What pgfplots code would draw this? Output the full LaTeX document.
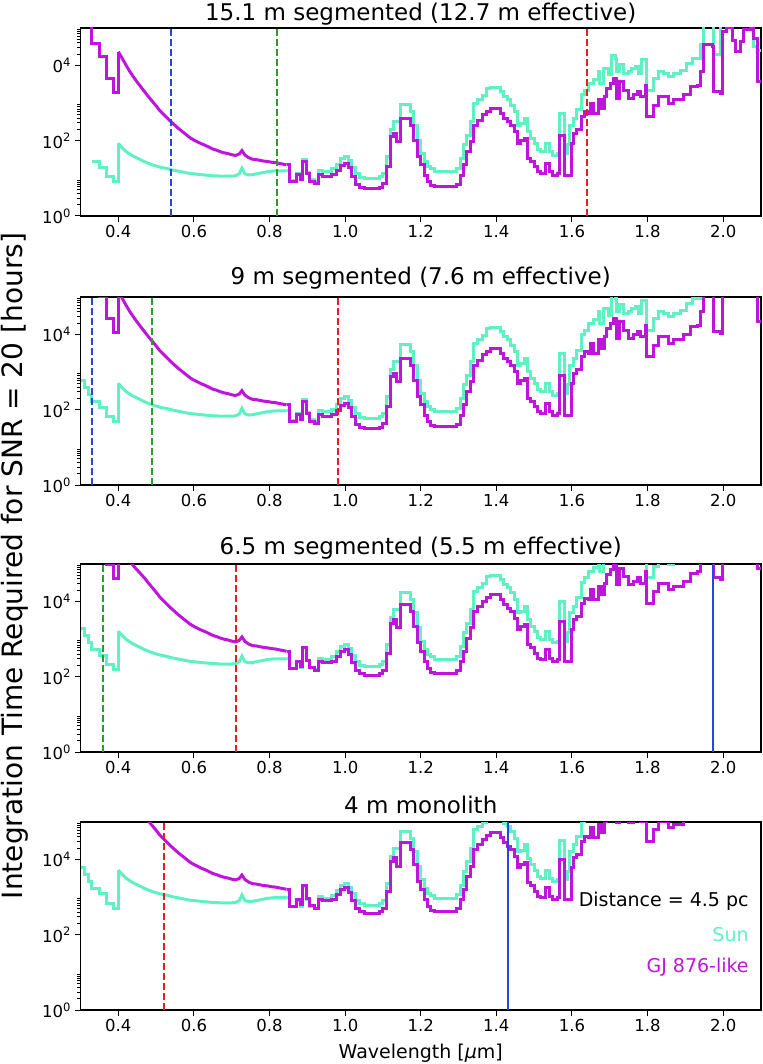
\documentclass[border=0pt]{standalone}
\usepackage{fontspec}
\setmainfont{DejaVu Sans}
\usepackage{pgfplots}
\pgfplotsset{compat=1.18}
\usepackage{pgfplotstable}
\definecolor{sun}{RGB}{95,240,195}
\definecolor{gj}{RGB}{190,20,220}
\definecolor{vblue}{RGB}{40,70,220}
\definecolor{vgreen}{RGB}{40,160,40}
\definecolor{vred}{RGB}{230,30,30}

% log10 of integration time [hours]; columns per panel (1: 15.1 m, 2: 9 m, 3: 6.5 m, 4: 4 m)
\pgfplotstableread{
x s1 g1 s2 g2 s3 g3 s4 g4
0.300 nan nan 2.77 6 3.28 6 3.79 6
0.310 nan nan 2.59 6 3.10 6 3.61 6
0.320 nan 6 2.41 6 2.92 6 3.43 6
0.330 1.44 4.60 2.21 5.37 2.72 6 3.23 6
0.350 1.30 4.25 2.07 5.02 2.58 6 3.09 6
0.368 1.05 3.67 1.82 4.44 2.33 4.99 2.84 6
0.387 0.91 3.29 1.68 4.06 2.19 4.61 2.70 5.14
0.400 1.93 4.37 2.70 5.14 3.21 6 3.72 6
0.410 1.82 4.20 2.59 4.97 3.10 5.52 3.61 6
0.420 1.72 4.02 2.49 4.79 3.00 5.34 3.51 5.87
0.430 1.65 3.85 2.42 4.62 2.93 5.10 3.44 5.70
0.440 1.59 3.70 2.36 4.47 2.87 4.95 3.38 5.55
0.450 1.54 3.56 2.31 4.33 2.82 4.84 3.33 5.41
0.460 1.49 3.43 2.26 4.20 2.77 4.73 3.28 5.28
0.470 1.44 3.30 2.21 4.07 2.72 4.62 3.23 5.15
0.480 1.40 3.17 2.17 3.94 2.68 4.49 3.19 5.02
0.490 1.36 3.05 2.13 3.82 2.64 4.37 3.15 4.90
0.500 1.33 2.93 2.10 3.70 2.61 4.25 3.12 4.78
0.510 1.30 2.80 2.07 3.57 2.58 4.12 3.09 4.65
0.520 1.28 2.70 2.05 3.47 2.56 4.02 3.07 4.55
0.530 1.26 2.60 2.03 3.37 2.54 3.92 3.05 4.45
0.540 1.23 2.50 2.00 3.27 2.51 3.82 3.02 4.35
0.550 1.21 2.41 1.98 3.18 2.49 3.73 3.00 4.26
0.560 1.19 2.32 1.96 3.09 2.47 3.64 2.98 4.17
0.570 1.17 2.24 1.94 3.01 2.45 3.56 2.96 4.09
0.580 1.15 2.16 1.92 2.93 2.43 3.48 2.94 4.01
0.590 1.13 2.08 1.90 2.85 2.41 3.40 2.92 3.93
0.600 1.12 2.02 1.89 2.79 2.40 3.34 2.91 3.87
0.610 1.11 1.97 1.88 2.74 2.39 3.29 2.90 3.82
0.620 1.10 1.92 1.87 2.69 2.38 3.24 2.89 3.77
0.630 1.09 1.88 1.86 2.65 2.37 3.20 2.88 3.73
0.640 1.08 1.83 1.85 2.60 2.36 3.15 2.87 3.68
0.650 1.07 1.78 1.84 2.55 2.35 3.10 2.86 3.63
0.660 1.07 1.75 1.84 2.52 2.35 3.07 2.86 3.60
0.670 1.06 1.71 1.83 2.48 2.34 3.03 2.85 3.56
0.680 1.06 1.68 1.83 2.45 2.34 3.00 2.85 3.53
0.690 1.06 1.66 1.83 2.43 2.34 2.98 2.85 3.51
0.700 1.06 1.63 1.83 2.40 2.34 2.95 2.85 3.48
0.710 1.07 1.61 1.84 2.38 2.35 2.93 2.86 3.46
0.720 1.12 1.65 1.89 2.42 2.40 2.97 2.91 3.50
0.727 1.27 1.74 2.04 2.51 2.55 3.06 3.06 3.59
0.735 1.12 1.62 1.89 2.39 2.40 2.94 2.91 3.47
0.745 1.09 1.55 1.86 2.32 2.37 2.87 2.88 3.40
0.755 1.10 1.51 1.87 2.28 2.38 2.83 2.89 3.36
0.765 1.12 1.50 1.89 2.27 2.40 2.82 2.91 3.35
0.775 1.14 1.48 1.91 2.25 2.42 2.80 2.93 3.33
0.785 1.16 1.46 1.93 2.23 2.44 2.78 2.95 3.31
0.795 1.18 1.45 1.95 2.22 2.46 2.77 2.97 3.30
0.805 1.19 1.43 1.96 2.20 2.47 2.75 2.98 3.28
0.815 1.20 1.42 1.97 2.19 2.48 2.74 2.99 3.27
0.825 1.20 1.40 1.97 2.17 2.48 2.72 2.99 3.25
0.835 1.20 1.38 1.97 2.15 2.48 2.70 2.99 3.23
0.845 1.20 1.36 1.97 2.13 2.48 2.68 2.99 3.21
0.853 0.95 0.91 1.72 1.68 2.23 2.23 2.74 2.76
0.871 1.12 1.10 1.89 1.87 2.40 2.42 2.91 2.95
0.882 0.97 0.96 1.74 1.73 2.25 2.28 2.76 2.81
0.888 1.50 1.45 2.27 2.22 2.78 2.77 3.29 3.30
0.899 1.15 1.12 1.92 1.89 2.43 2.44 2.94 2.97
0.906 0.97 0.92 1.74 1.69 2.25 2.24 2.76 2.77
0.919 0.92 0.86 1.69 1.63 2.20 2.18 2.71 2.71
0.930 1.22 1.10 1.99 1.87 2.50 2.42 3.01 2.95
0.940 1.18 1.05 1.95 1.82 2.46 2.37 2.97 2.90
0.965 1.25 1.10 2.02 1.87 2.53 2.42 3.04 2.95
0.977 1.38 1.22 2.15 1.99 2.66 2.54 3.17 3.07
0.988 1.53 1.35 2.30 2.12 2.81 2.67 3.32 3.20
0.998 1.58 1.40 2.35 2.17 2.86 2.72 3.37 3.25
1.008 1.48 1.28 2.25 2.05 2.76 2.60 3.27 3.13
1.018 1.30 1.05 2.07 1.82 2.58 2.37 3.09 2.90
1.028 1.12 0.85 1.89 1.62 2.40 2.17 2.91 2.70
1.038 1.03 0.76 1.80 1.53 2.31 2.08 2.82 2.61
1.050 1.00 0.72 1.77 1.49 2.28 2.04 2.79 2.57
1.090 1.05 0.76 1.82 1.53 2.33 2.08 2.84 2.61
1.100 1.13 0.86 1.90 1.63 2.41 2.18 2.92 2.71
1.110 1.58 1.31 2.35 2.08 2.86 2.63 3.37 3.16
1.119 2.30 2.11 3.07 2.88 3.58 3.43 4.09 3.96
1.128 2.51 2.20 3.28 2.97 3.79 3.52 4.30 4.05
1.137 2.51 1.98 3.28 2.75 3.79 3.30 4.30 3.83
1.146 2.97 2.60 3.74 3.37 4.25 3.92 4.76 4.45
1.173 2.77 2.42 3.54 3.19 4.05 3.74 4.56 4.27
1.182 2.42 2.02 3.19 2.79 3.70 3.34 4.21 3.87
1.191 2.02 1.58 2.79 2.35 3.30 2.90 3.81 3.43
1.200 1.67 1.36 2.44 2.13 2.95 2.68 3.46 3.21
1.209 1.45 1.09 2.22 1.86 2.73 2.41 3.24 2.94
1.218 1.31 0.91 2.08 1.68 2.59 2.23 3.10 2.76
1.227 1.25 0.80 2.02 1.57 2.53 2.12 3.04 2.65
1.236 1.18 0.78 1.95 1.55 2.46 2.10 2.97 2.63
1.295 1.27 0.85 2.04 1.62 2.55 2.17 3.06 2.70
1.304 1.53 1.09 2.30 1.86 2.81 2.41 3.32 2.94
1.313 1.89 1.36 2.66 2.13 3.17 2.68 3.68 3.21
1.322 2.15 1.71 2.92 2.48 3.43 3.03 3.94 3.56
1.331 2.51 1.98 3.28 2.75 3.79 3.30 4.30 3.83
1.340 3.00 2.42 3.77 3.19 4.28 3.74 4.79 4.27
1.349 3.09 2.55 3.86 3.32 4.37 3.87 4.88 4.40
1.362 3.20 2.69 3.97 3.46 4.48 4.01 4.99 4.54
1.375 3.38 2.79 4.15 3.56 4.66 4.11 5.17 4.64
1.384 3.41 2.86 4.18 3.63 4.69 4.18 5.20 4.71
1.410 3.31 2.73 4.08 3.50 4.59 4.05 5.10 4.58
1.420 3.17 2.60 3.94 3.37 4.45 3.92 4.96 4.45
1.430 3.09 2.51 3.86 3.28 4.37 3.83 4.88 4.36
1.438 2.95 2.42 3.72 3.19 4.23 3.74 4.74 4.27
1.447 2.77 2.24 3.54 3.01 4.05 3.56 4.56 4.09
1.456 2.42 1.93 3.19 2.70 3.70 3.25 4.21 3.78
1.465 2.46 2.02 3.23 2.79 3.74 3.34 4.25 3.87
1.474 2.60 2.07 3.37 2.84 3.88 3.39 4.39 3.92
1.482 2.24 1.53 3.01 2.30 3.52 2.85 4.03 3.38
1.490 2.07 1.45 2.84 2.22 3.35 2.77 3.86 3.30
1.500 1.93 1.31 2.70 2.08 3.21 2.63 3.72 3.16
1.509 1.76 1.18 2.53 1.95 3.04 2.50 3.55 3.03
1.518 1.71 1.13 2.48 1.90 2.99 2.45 3.50 2.98
1.531 1.93 1.40 2.70 2.17 3.21 2.72 3.72 3.25
1.540 1.71 1.18 2.48 1.95 2.99 2.50 3.50 3.03
1.549 1.62 1.09 2.39 1.86 2.90 2.41 3.41 2.94
1.562 1.67 1.13 2.44 1.90 2.95 2.45 3.46 2.98
1.567 2.73 2.15 3.50 2.92 4.01 3.47 4.52 4.00
1.580 1.67 1.09 2.44 1.86 2.95 2.41 3.46 2.94
1.589 1.89 1.09 2.66 1.86 3.17 2.41 3.68 2.94
1.594 2.42 1.09 3.19 1.86 3.70 2.41 4.21 2.94
1.599 2.42 1.93 3.19 2.70 3.70 3.25 4.21 3.78
1.603 2.60 2.20 3.37 2.97 3.88 3.52 4.39 4.05
1.612 2.82 2.29 3.59 3.06 4.10 3.61 4.61 4.14
1.625 3.22 2.64 3.99 3.41 4.50 3.96 5.01 4.49
1.634 3.35 2.77 4.12 3.54 4.63 4.09 5.14 4.62
1.643 3.53 2.73 4.30 3.50 4.81 4.05 5.32 4.58
1.648 3.53 3.00 4.30 3.77 4.81 4.32 5.32 4.85
1.656 3.62 2.73 4.39 3.50 4.90 4.05 5.41 4.58
1.669 3.84 3.09 4.61 3.86 5.12 4.41 5.63 4.94
1.674 3.53 3.09 4.30 3.86 4.81 4.41 5.32 4.94
1.678 3.53 2.86 4.30 3.63 4.81 4.18 5.32 4.71
1.683 3.93 2.86 4.70 3.63 5.21 4.18 5.72 4.71
1.687 3.93 3.17 4.70 3.94 5.21 4.49 5.72 5.02
1.692 3.93 3.40 4.70 4.17 5.21 4.72 5.72 5.25
1.696 3.75 3.40 4.52 4.17 5.03 4.72 5.54 5.25
1.701 3.75 3.53 4.52 4.30 5.03 4.85 5.54 5.38
1.705 4.28 3.53 5.05 4.30 5.56 4.85 6 5.38
1.710 4.28 3.66 5.05 4.43 5.56 4.98 6 5.51
1.714 4.19 3.66 4.96 4.43 5.47 4.98 5.98 5.51
1.718 3.84 3.13 4.61 3.90 5.12 4.45 5.63 4.98
1.727 4.02 3.57 4.79 4.34 5.30 4.89 5.81 5.42
1.736 3.79 3.35 4.56 4.12 5.07 4.67 5.58 5.20
1.749 3.84 3.13 4.61 3.90 5.12 4.45 5.63 4.98
1.758 3.93 3.13 4.70 3.90 5.21 4.45 5.72 4.98
1.763 3.93 3.22 4.70 3.99 5.21 4.54 5.72 5.07
1.767 3.97 3.22 4.74 3.99 5.25 4.54 5.76 5.07
1.772 3.97 3.31 4.74 4.08 5.25 4.63 5.76 5.16
1.776 3.79 3.31 4.56 4.08 5.07 4.63 5.58 5.16
1.781 3.79 3.17 4.56 3.94 5.07 4.49 5.58 5.02
1.785 4.15 3.17 4.92 3.94 5.43 4.49 5.94 5.02
1.794 4.15 3.48 4.92 4.25 5.43 4.80 5.94 5.33
1.798 3.35 2.64 4.12 3.41 4.63 3.96 5.14 4.49
1.816 3.66 2.95 4.43 3.72 4.94 4.27 5.45 4.80
1.830 3.84 3.17 4.61 3.94 5.12 4.49 5.63 5.02
1.843 3.79 3.17 4.56 3.94 5.07 4.49 5.58 5.02
1.856 3.70 3.00 4.47 3.77 4.98 4.32 5.49 4.85
1.869 3.79 3.09 4.56 3.86 5.07 4.41 5.58 4.94
1.887 3.88 3.09 4.65 3.86 5.16 4.41 5.67 4.94
1.895 3.88 3.22 4.65 3.99 5.16 4.54 5.67 5.07
1.904 4.06 3.22 4.83 3.99 5.34 4.54 5.85 5.07
1.913 4.06 3.44 4.83 4.21 5.34 4.76 5.85 5.29
1.918 4.19 3.44 4.96 4.21 5.47 4.76 5.98 5.29
1.931 4.19 3.48 4.96 4.25 5.47 4.80 5.98 5.33
1.940 4.55 3.84 5.32 4.61 5.83 5.16 6 5.69
1.948 6 4.55 6 5.32 6 5.87 6 6
1.971 6 4.50 6 5.27 6 5.82 6 6
1.975 4.30 3.31 5.07 4.08 5.58 4.63 6 5.16
1.993 6 3.26 6 4.03 6 4.58 6 5.11
1.997 6 4.90 6 5.67 6 6 6 6
2.010 6 5.00 6 6 6 6 6 6
2.024 6 4.68 6 5.45 6 6 6 6
2.033 6 4.37 6 5.14 6 5.69 6 6
2.046 6 4.64 6 5.41 6 5.96 6 6
2.055 6 4.95 6 5.72 6 6 6 6
2.072 6 5.00 6 6 6 6 6 6
2.081 4.50 4.73 5.27 5.50 5.78 6 6 6
2.090 4.41 3.57 5.18 4.34 5.69 4.89 6 5.42
2.100 4.41 3.57 5.18 4.34 5.69 4.89 6 5.42
}\data

\pgfplotsset{
  panel/.style={
    scale only axis, width=680.5pt, height=188pt,
    anchor=south west,
    xmin=0.3, xmax=2.1, ymin=0, ymax=5,
    xtick={0.4,0.6,0.8,1.0,1.2,1.4,1.6,1.8,2.0},
    xticklabels={0.4,0.6,0.8,1.0,1.2,1.4,1.6,1.8,2.0},
    ytick={0,2,4},
    yticklabels={10\textsuperscript{0},10\textsuperscript{2},10\textsuperscript{4}},
    minor ytick={0.301,0.477,0.602,0.699,0.778,0.845,0.903,0.954,
                 2.301,2.477,2.602,2.699,2.778,2.845,2.903,2.954,
                 4.301,4.477,4.602,4.699,4.778,4.845,4.903,4.954},
    tick align=outside, xtick pos=bottom, ytick pos=left,
    major tick length=6pt, minor tick length=3.5pt,
    every tick/.style={black, line width=1pt},
    axis line style={black, line width=1.1pt},
    tick label style={font=\fontsize{16.5}{18}\selectfont},
    unbounded coords=jump,
  },
  ptitle/.style={every axis title/.style={at={(0.5,1)}, anchor=base, yshift=#1,
                 font=\fontsize{23}{26}\selectfont}},
  sunline/.style={sun, line width=3pt, line join=miter},
  gjline/.style={gj, line width=3pt, line join=miter},
  dline/.style={line width=2pt, dash pattern=on 7pt off 3pt},
  sline/.style={line width=2pt},
}
% a curve = stepped short part, smooth middle part, stepped long part
\newcommand{\curve}[2]{%
  \addplot[#1, const plot, restrict x to domain=0.29:0.4001] table[x=x,y=#2]{\data};
  \addplot[#1, sharp plot, restrict x to domain=0.3999:0.8451] table[x=x,y=#2]{\data};
  \addplot[#1, const plot, restrict x to domain=0.8449:2.2] table[x=x,y=#2]{\data};
}

\begin{document}
\begin{tikzpicture}[x=1pt,y=1pt]
\useasboundingbox (0,0) rectangle (762,-1064);

% Panel 1
\begin{axis}[panel, at={(80.5pt,-216pt)}, ptitle=7pt, title={15.1 m segmented (12.7 m effective)},
  yticklabels={10\textsuperscript{0},10\textsuperscript{2},\phantom{1}0\textsuperscript{4}}]
\curve{sunline}{s1}
\curve{gjline}{g1}
\addplot[vblue, dline] coordinates {(0.54,0) (0.54,5)};
\addplot[vgreen, dline] coordinates {(0.82,0) (0.82,5)};
\addplot[vred, dline] coordinates {(1.64,0) (1.64,5)};
\end{axis}

% Panel 2
\begin{axis}[panel, at={(80.5pt,-485pt)}, ptitle=12.5pt, title={9 m segmented (7.6 m effective)}]
\curve{sunline}{s2}
\curve{gjline}{g2}
\addplot[vblue, dline] coordinates {(0.33,0) (0.33,5)};
\addplot[vgreen, dline] coordinates {(0.49,0) (0.49,5)};
\addplot[vred, dline] coordinates {(0.98,0) (0.98,5)};
\end{axis}

% Panel 3
\begin{axis}[panel, at={(80.5pt,-752pt)}, ptitle=10pt, title={6.5 m segmented (5.5 m effective)}]
\curve{sunline}{s3}
\curve{gjline}{g3}
\addplot[vgreen, dline] coordinates {(0.36,0) (0.36,5)};
\addplot[vred, dline] coordinates {(0.71,0) (0.71,5)};
\addplot[vblue, sline] coordinates {(1.972,0) (1.972,5)};
\end{axis}

% Panel 4
\begin{axis}[panel, at={(80.5pt,-1010pt)}, ptitle=9pt, title={4 m monolith},
  xlabel={Wavelength [{\itshape μ}m]},
  xlabel style={font=\fontsize{19}{21}\selectfont, at={(0.5,0)}, anchor=center, yshift=-43pt}]
\curve{sunline}{s4}
\curve{gjline}{g4}
\addplot[vred, dline] coordinates {(0.52,0) (0.52,5)};
\addplot[vblue, sline] coordinates {(1.43,0) (1.43,5)};
\node[anchor=east, font=\fontsize{19}{21}\selectfont, black] at (rel axis cs:0.987,0.576) {Distance = 4.5 pc};
\node[anchor=east, font=\fontsize{19}{21}\selectfont, text=sun] at (rel axis cs:0.987,0.399) {Sun};
\node[anchor=east, font=\fontsize{19}{21}\selectfont, text=gj] at (rel axis cs:0.987,0.230) {GJ 876-like};
\end{axis}

\node[rotate=90, font=\fontsize{28}{30}\selectfont] at (15,-566) {Integration Time Required for SNR = 20 [hours]};
\end{tikzpicture}
\end{document}
